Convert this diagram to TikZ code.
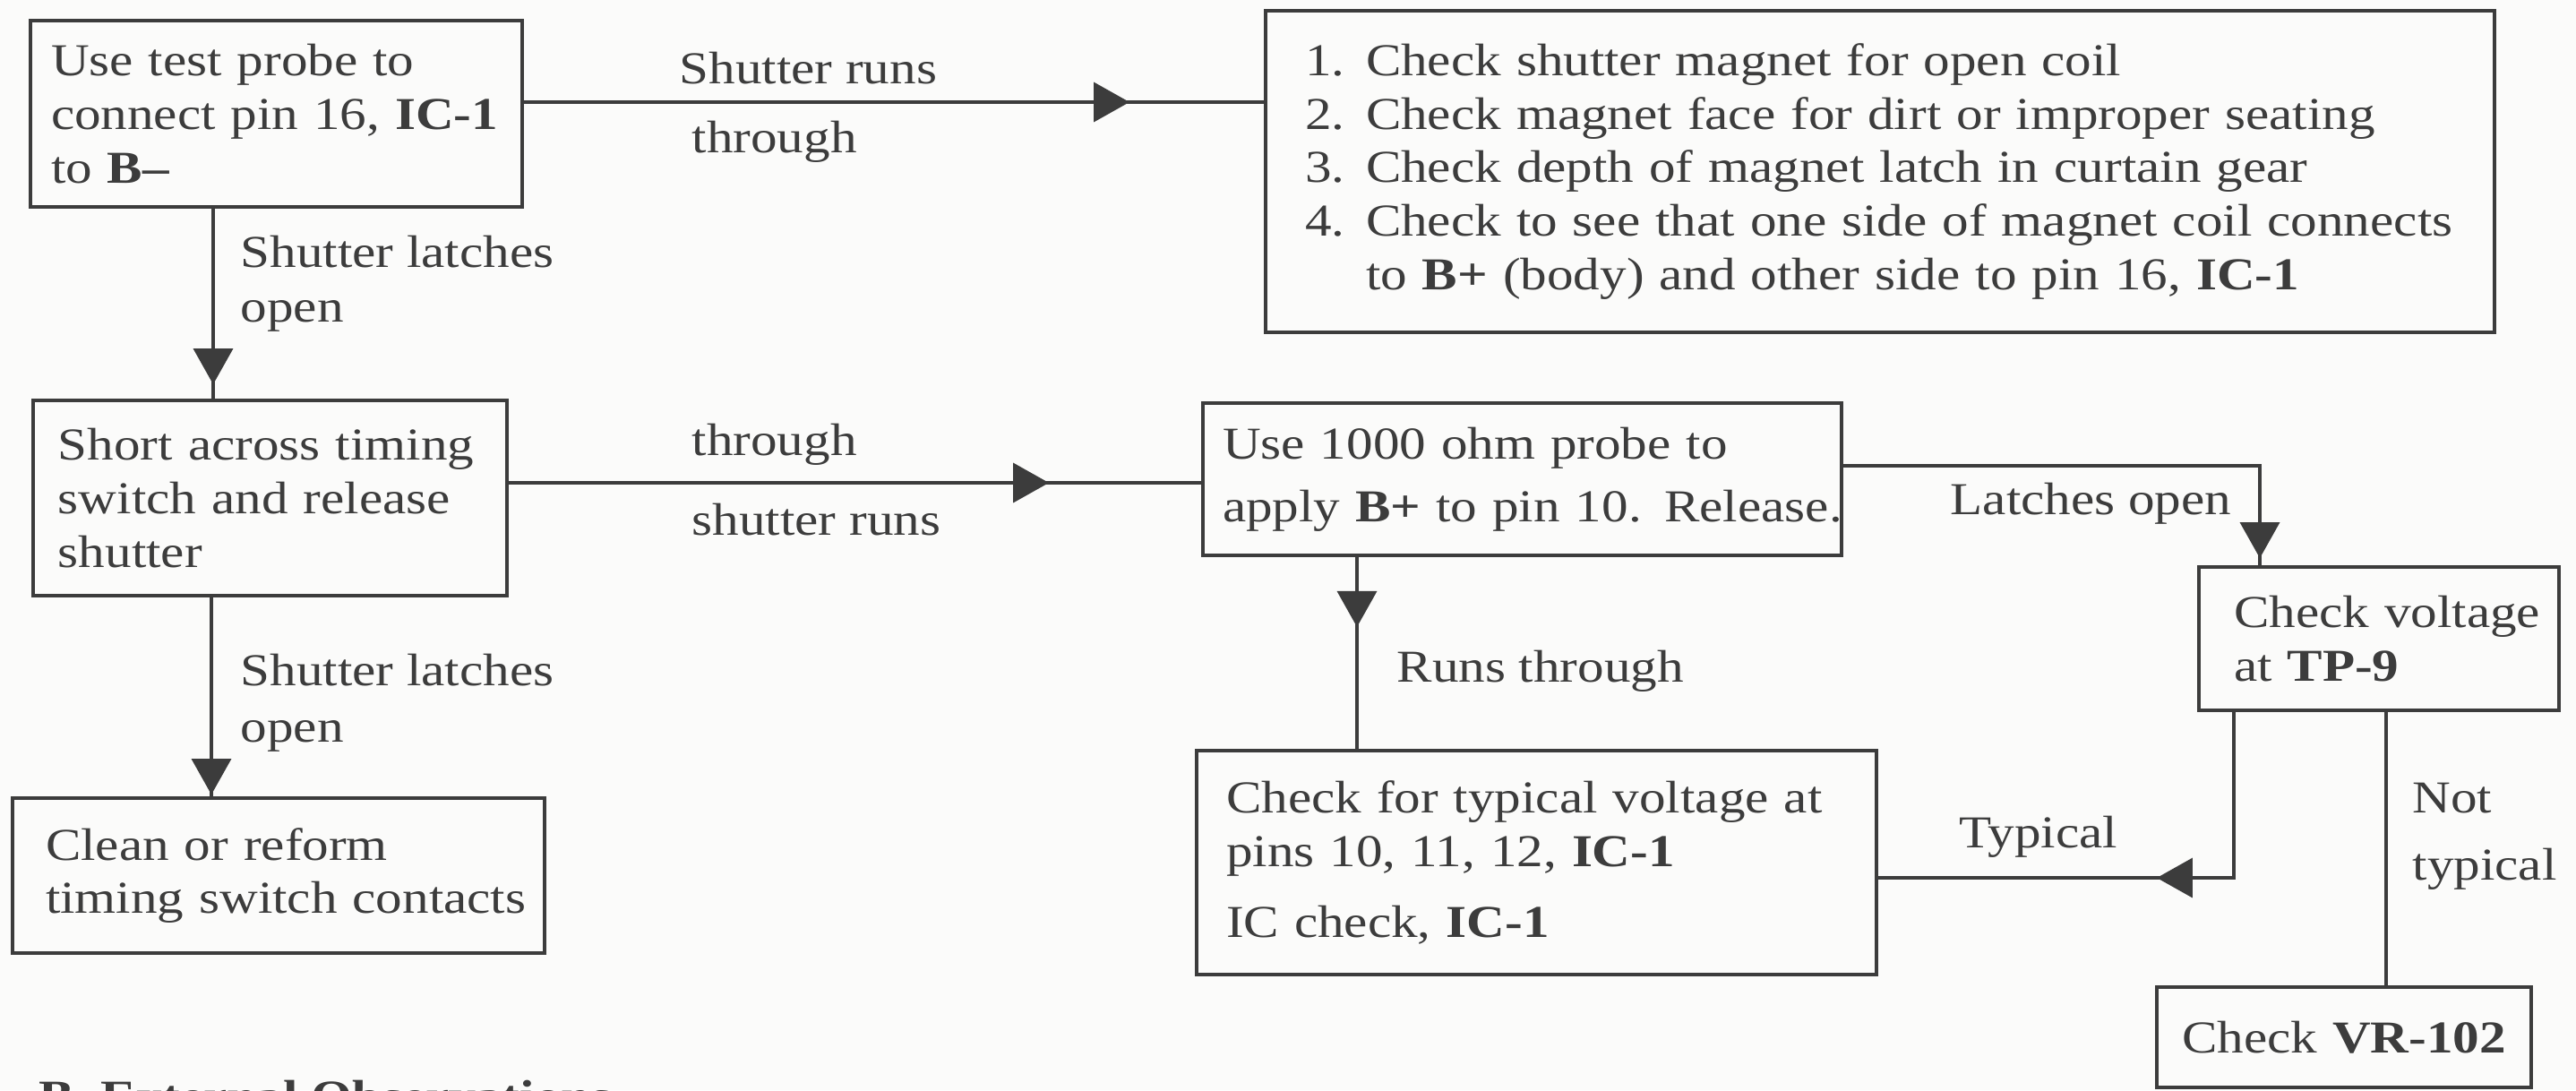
\documentclass[tikz,border=0pt]{standalone}
\usepackage{fontspec}
\setmainfont{Liberation Serif}[FakeStretch=1.16]
\usetikzlibrary{decorations.markings,arrows.meta}

\definecolor{ink}{HTML}{3C3C3C}
\definecolor{paper}{HTML}{FBFBFA}

\begin{document}
\begin{tikzpicture}[
  font=\fontsize{14.5}{17}\selectfont,
  every node/.style={text=ink},
  box/.style={draw=ink, line width=1.1pt, rectangle, align=left, inner ysep=0pt},
  lbl/.style={anchor=base west, inner sep=0pt},
  conn/.style={draw=ink, line width=1pt},
  midtip/.style={postaction={decorate, decoration={markings,
      mark=at position #1 with {\arrow[ink]{Triangle[length=0.4cm, width=0.44cm]}}}}},
]
\useasboundingbox (0,0) rectangle (28.76,-12.17);
\clip (0,0) rectangle (28.76,-12.17);
\fill[paper] (0,0) rectangle (28.76,-12.17);

% boxes
\node[box, minimum width=5.49cm, minimum height=2.08cm, text width=5.03cm, inner xsep=0.23cm]
  (b1) at (3.085,-1.27)
  {\mbox{Use test probe to}\\\mbox{connect pin 16, \textbf{IC-1}}\\\mbox{to \textbf{B\textendash}}};
\node[box, minimum width=5.29cm, minimum height=2.18cm, text width=4.73cm, inner xsep=0.28cm]
  (b2) at (3.015,-5.56)
  {\mbox{Short across timing}\\\mbox{switch and release}\\\mbox{shutter}};
\node[box, minimum width=13.72cm, minimum height=3.59cm, text width=12.84cm, inner xsep=0.44cm]
  (b3) at (20.99,-1.915)
  {\mbox{\makebox[0.68cm][l]{1.}Check shutter magnet for open coil}\\
   \mbox{\makebox[0.68cm][l]{2.}Check magnet face for dirt or improper seating}\\
   \mbox{\makebox[0.68cm][l]{3.}Check depth of magnet latch in curtain gear}\\
   \mbox{\makebox[0.68cm][l]{4.}Check to see that one side of magnet coil connects}\\
   \mbox{\hspace*{0.68cm}to \textbf{B+} (body) and other side to pin 16, \textbf{IC-1}}};
\node[box, minimum width=7.13cm, minimum height=1.70cm, text width=6.69cm, inner xsep=0.22cm]
  (b4) at (16.995,-5.35)
  {\mbox{Use 1000 ohm\ probe to}\\[0.1cm]\mbox{apply \textbf{B+} to pin 10. Release.}};
\node[box, minimum width=5.94cm, minimum height=1.73cm, text width=5.20cm, inner xsep=0.37cm]
  (b5) at (3.11,-9.775)
  {\mbox{Clean or reform}\\\mbox{timing switch contacts}};
\node[box, minimum width=4.02cm, minimum height=1.60cm, text width=3.24cm, inner xsep=0.39cm]
  (b6) at (26.56,-7.13)
  {\mbox{Check voltage}\\\mbox{at \textbf{TP-9}}};
\node[box, minimum width=7.59cm, minimum height=2.50cm, text width=6.93cm, inner xsep=0.33cm]
  (b7) at (17.155,-9.63)
  {\mbox{Check for typical voltage at}\\\mbox{pins 10, 11, 12, \textbf{IC-1}}\\[0.2cm]\mbox{IC check, \textbf{IC-1}}};
\node[box, align=center, minimum width=4.18cm, minimum height=1.12cm, text width=3.78cm, inner xsep=0.2cm]
  (b8) at (26.17,-11.58)
  {\mbox{Check \textbf{VR-102}}};

% connectors
\draw[conn, midtip=-1.5cm] ([yshift=0.13cm]b1.east) -- ([yshift=0.13cm]b1.east -| b3.west);
\draw[conn, midtip=-1.7cm] ([yshift=0.17cm]b2.east) -- ([yshift=0.17cm]b2.east -| b4.west);
\draw[conn, midtip=-0.16cm] ([xshift=-0.705cm]b1.south) -- ([xshift=-0.705cm]b1.south |- b2.north);
\draw[conn, midtip=-0.02cm] ([xshift=-0.655cm]b2.south) -- ([xshift=-0.655cm]b2.south |- b5.north);
\draw[conn, midtip=-0.08cm] ([yshift=0.15cm]b4.east) -| ([xshift=-1.33cm]b6.north);
\draw[conn, midtip=0.78cm] ([xshift=-1.845cm]b4.south) -- ([xshift=-1.845cm]b4.south |- b7.north);
\draw[conn, midtip=-3.11cm] ([xshift=-1.62cm]b6.south) |- ([yshift=-0.17cm]b7.east);
\draw[conn] ([xshift=0.08cm]b6.south) -- ([xshift=0.08cm]b6.south |- b8.north);

% connector labels
\node[lbl] (l1) at (7.58,-0.93) {Shutter runs};
\node[lbl] (l2) at (7.72,-1.70) {through};
\node[lbl] (l3) at (2.68,-2.98) {Shutter latches};
\node[lbl] (l4) at (2.68,-3.59) {open};
\node[lbl] (l5) at (7.72,-5.08) {through};
\node[lbl] (l6) at (7.72,-5.97) {shutter runs};
\node[lbl] (l7) at (2.68,-7.65) {Shutter latches};
\node[lbl] (l8) at (2.68,-8.28) {open};
\node[lbl] (l9) at (21.77,-5.74) {Latches open};
\node[lbl] (l10) at (15.59,-7.61) {Runs through};
\node[lbl] (l11) at (21.87,-9.46) {Typical};
\node[lbl] (l12) at (26.93,-9.07) {Not};
\node[lbl] (l13) at (26.93,-9.82) {typical};

% next section heading, running off the lower edge
\node[lbl, font=\fontsize{14.5}{17}\selectfont\bfseries] (sec) at (0.43,-12.41) {B. External Observations};
\end{tikzpicture}
\end{document}
